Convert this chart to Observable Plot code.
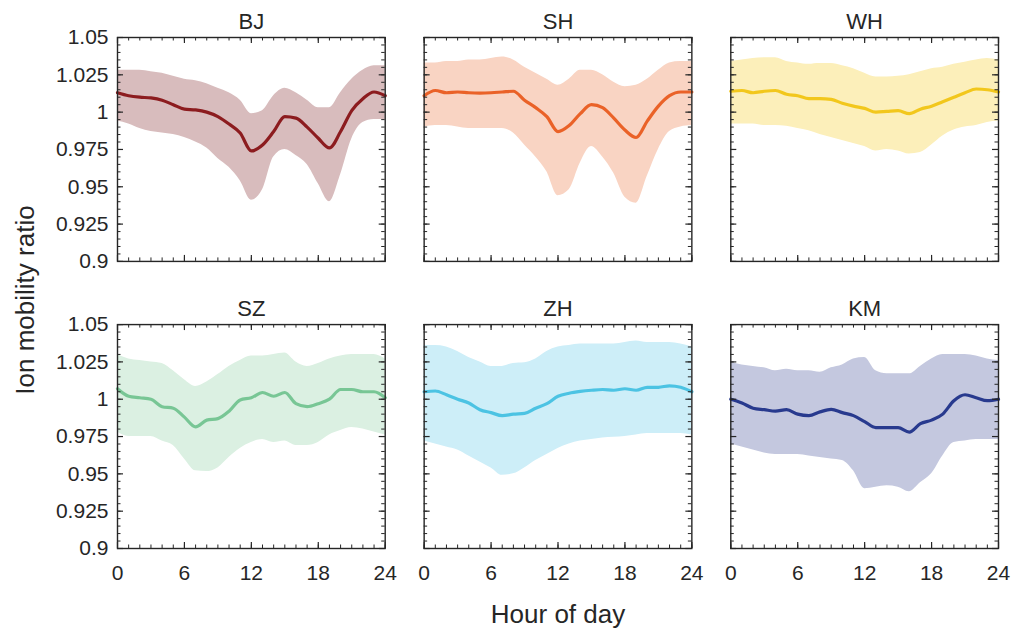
<!DOCTYPE html>
<html><head><meta charset="utf-8">
<script src="https://cdn.jsdelivr.net/npm/d3@7"></script>
<script src="https://cdn.jsdelivr.net/npm/@observablehq/plot@0.6"></script>
<style>
html,body{margin:0;padding:0;background:#fff;}
#chart{position:relative;width:1013px;height:630px;}
</style></head><body><div id="chart"></div>
<script>
// ---- data ----
const hours = [0,1,2,3,4,5,6,7,8,9,10,11,12,13,14,15,16,17,18,19,20,21,22,23,24];
const cities = ["BJ","SH","WH","SZ","ZH","KM"];
const lineColors = ["#8c1c1f","#ea6228","#f2c71c","#78c695","#4cc3e3","#283a8e"];
const bandColors = ["#d8bcbd","#f9d4c3","#fcefba","#dbf0e2","#cdeef8","#c4c8df"];
const xTicks = [0,6,12,18,24];
const xTickLabels = ["0","6","12","18","24"];
const yTicks = [0.9,0.925,0.95,0.975,1,1.025,1.05];
const yTickLabels = ["0.9","0.925","0.95","0.975","1","1.025","1.05"];

const bjMean = [1.013,1.011,1.010,1.0095,1.008,1.005,1.002,1.0015,1.000,0.997,0.992,0.986,0.974,0.978,0.987,0.997,0.996,0.990,0.9825,0.976,0.987,1.001,1.009,1.0135,1.011];
const bjHi   = [1.028,1.028,1.028,1.027,1.026,1.024,1.022,1.021,1.019,1.016,1.013,1.008,0.999,1.001,1.011,1.016,1.013,1.008,1.003,1.003,1.013,1.022,1.028,1.031,1.031];
const bjLo   = [0.994,0.992,0.989,0.987,0.986,0.985,0.983,0.980,0.976,0.969,0.963,0.954,0.941,0.948,0.970,0.975,0.971,0.965,0.952,0.940,0.958,0.982,0.993,0.995,0.995];

const shMean = [1.011,1.0145,1.013,1.0135,1.013,1.0128,1.013,1.0135,1.014,1.008,1.003,0.997,0.987,0.991,0.999,1.005,1.003,0.996,0.988,0.983,0.994,1.004,1.011,1.0135,1.0135];
const shHi   = [1.033,1.033,1.034,1.034,1.035,1.035,1.036,1.037,1.035,1.030,1.026,1.022,1.018,1.022,1.028,1.028,1.025,1.020,1.017,1.018,1.022,1.028,1.033,1.034,1.034];
const shLo   = [0.990,0.991,0.991,0.990,0.989,0.989,0.989,0.989,0.986,0.978,0.970,0.960,0.944,0.948,0.966,0.977,0.970,0.959,0.943,0.939,0.957,0.975,0.987,0.990,0.991];

const whMean = [1.014,1.0145,1.013,1.014,1.0145,1.012,1.011,1.009,1.009,1.0085,1.006,1.004,1.0025,1.000,1.0005,1.001,0.999,1.002,1.004,1.007,1.010,1.013,1.0155,1.015,1.0135];
const whHi   = [1.034,1.035,1.036,1.0365,1.0365,1.034,1.033,1.032,1.0325,1.0325,1.031,1.029,1.026,1.0235,1.0235,1.024,1.025,1.027,1.029,1.030,1.032,1.0335,1.035,1.036,1.035];
const whLo   = [0.992,0.992,0.992,0.991,0.991,0.9905,0.989,0.9875,0.985,0.983,0.981,0.979,0.977,0.974,0.975,0.974,0.972,0.973,0.978,0.984,0.988,0.990,0.991,0.993,0.994];

const szMean = [1.007,1.002,1.001,1.000,0.995,0.994,0.988,0.9815,0.986,0.987,0.992,0.9995,1.001,1.0045,1.002,1.0045,0.997,0.995,0.997,1.000,1.0065,1.0065,1.005,1.005,1.001];
const szHi   = [1.030,1.027,1.026,1.025,1.024,1.019,1.013,1.0085,1.0115,1.0165,1.022,1.026,1.029,1.029,1.030,1.031,1.025,1.022,1.024,1.027,1.029,1.030,1.030,1.030,1.027];
const szLo   = [0.978,0.975,0.975,0.975,0.972,0.969,0.960,0.952,0.9515,0.954,0.961,0.967,0.971,0.973,0.971,0.972,0.969,0.969,0.971,0.976,0.979,0.981,0.980,0.978,0.976];

const zhMean = [1.005,1.0055,1.003,1.000,0.9975,0.993,0.991,0.989,0.990,0.9905,0.994,0.997,1.002,1.004,1.0052,1.006,1.0065,1.006,1.007,1.006,1.008,1.008,1.009,1.008,1.005];
const zhHi   = [1.036,1.036,1.035,1.032,1.028,1.025,1.022,1.022,1.024,1.0245,1.027,1.032,1.035,1.036,1.037,1.037,1.037,1.037,1.038,1.039,1.038,1.038,1.038,1.037,1.035];
const zhLo   = [0.972,0.970,0.968,0.966,0.962,0.958,0.954,0.949,0.950,0.954,0.959,0.963,0.967,0.970,0.972,0.973,0.974,0.9745,0.975,0.976,0.977,0.977,0.977,0.977,0.976];

const kmMean = [1.000,0.9975,0.994,0.993,0.992,0.993,0.990,0.989,0.9915,0.9932,0.991,0.989,0.985,0.981,0.981,0.981,0.978,0.9836,0.986,0.990,0.999,1.003,1.001,0.999,1.000];
const kmHi   = [1.025,1.023,1.022,1.021,1.019,1.020,1.019,1.019,1.018,1.021,1.023,1.027,1.028,1.019,1.017,1.017,1.017,1.022,1.027,1.030,1.030,1.030,1.029,1.027,1.026];
const kmLo   = [0.970,0.968,0.966,0.964,0.963,0.963,0.963,0.962,0.961,0.960,0.959,0.952,0.940,0.941,0.942,0.941,0.938,0.944,0.950,0.962,0.971,0.972,0.973,0.973,0.973];

const meanSeries = [bjMean, shMean, whMean, szMean, zhMean, kmMean];
const hiSeries = [bjHi, shHi, whHi, szHi, zhHi, kmHi];
const loSeries = [bjLo, shLo, whLo, szLo, zhLo, kmLo];

// ---- build tables ----
const rows = [];
cities.forEach((city, c) => {
  hours.forEach((h, i) => {
    rows.push({city, col: c % 3, row: Math.floor(c / 3), hour: h,
      mean: meanSeries[c][i], hi: hiSeries[c][i], lo: loSeries[c][i],
      line: lineColors[c], band: bandColors[c]});
  });
});
const titleRows = cities.map((city, c) => ({city, col: c % 3, row: Math.floor(c / 3)}));
// tick labels only on the left column and the bottom row
const yLabelRows = [0, 1].flatMap(r => yTicks.map((v, i) => ({col: 0, row: r, v, label: yTickLabels[i]})));
const xLabelRows = [0, 1, 2].flatMap(c => xTicks.map((v, i) => ({col: c, row: 1, v, label: xTickLabels[i]})));

// ---- layout ----
const W = 1013, H = 630, mL = 117, mR = 15, mT = 37, mB = 82;
const padX = 0.127, padY = 0.22;
const fw = (W - mL - mR) / (3 - padX) * (1 - padX);
const fh = (H - mT - mB) / (2 - padY) * (1 - padY);
const ink = "#262626";
const font = "'Liberation Sans', Arial, sans-serif";
const majorLen = 6, minorLen = 3.5;
const xMinor = d3.range(0, 25, 1);
const yMinor = d3.range(0, 31).map(i => +(0.9 + i * 0.005).toFixed(3));

const plot = Plot.plot({
  width: W, height: H,
  marginLeft: mL, marginRight: mR, marginTop: mT, marginBottom: mB,
  style: {fontFamily: font, fontSize: "21px", color: ink, background: "white"},
  fx: {domain: [0, 1, 2], axis: null, paddingInner: padX, paddingOuter: 0, round: false},
  fy: {domain: [0, 1], axis: null, paddingInner: padY, paddingOuter: 0, round: false},
  x: {domain: [0, 24], axis: null},
  y: {domain: [0.9, 1.05], axis: null},
  color: {type: "identity"},
  marks: [
    Plot.areaY(rows, {x: "hour", y1: "lo", y2: "hi", fill: "band", z: "city", fx: "col", fy: "row", curve: "monotone-x"}),
    Plot.lineY(rows, {x: "hour", y: "mean", stroke: "line", z: "city", strokeWidth: 3.2, fx: "col", fy: "row", curve: "monotone-x"}),
    Plot.frame({stroke: ink, strokeWidth: 1.4}),
    // inward ticks: bottom, top, left, right
    Plot.tickX(xMinor, {x: d => d, insetTop: fh - minorLen, stroke: ink, strokeWidth: 1}),
    Plot.tickX(xTicks, {x: d => d, insetTop: fh - majorLen, stroke: ink, strokeWidth: 1.2}),
    Plot.tickX(xMinor, {x: d => d, insetBottom: fh - minorLen, stroke: ink, strokeWidth: 1}),
    Plot.tickX(xTicks, {x: d => d, insetBottom: fh - majorLen, stroke: ink, strokeWidth: 1.2}),
    Plot.tickY(yMinor, {y: d => d, insetRight: fw - minorLen, stroke: ink, strokeWidth: 1}),
    Plot.tickY(yTicks, {y: d => d, insetRight: fw - majorLen, stroke: ink, strokeWidth: 1.2}),
    Plot.tickY(yMinor, {y: d => d, insetLeft: fw - minorLen, stroke: ink, strokeWidth: 1}),
    Plot.tickY(yTicks, {y: d => d, insetLeft: fw - majorLen, stroke: ink, strokeWidth: 1.2}),
    // tick labels
    Plot.text(yLabelRows, {fx: "col", fy: "row", y: "v", text: "label", frameAnchor: "left", textAnchor: "end",
      lineAnchor: "middle", dx: -9, fontSize: 21, fontFamily: font, fill: ink}),
    Plot.text(xLabelRows, {fx: "col", fy: "row", x: "v", text: "label", frameAnchor: "bottom", textAnchor: "middle",
      lineAnchor: "top", dy: 17, fontSize: 21, fontFamily: font, fill: ink}),
    // panel titles
    Plot.text(titleRows, {fx: "col", fy: "row", text: "city", frameAnchor: "top", lineAnchor: "middle",
      dy: -16, fontSize: 22, fontFamily: font, fill: ink})
  ]
});

const svg = d3.select(plot);
svg.append("text")
  .attr("transform", "translate(25,300) rotate(-90)")
  .attr("text-anchor", "middle").attr("dy", "0.35em")
  .attr("font-family", font)
  .attr("font-size", 26).attr("fill", ink)
  .text("Ion mobility ratio");
svg.append("text")
  .attr("x", 558).attr("y", 623)
  .attr("text-anchor", "middle")
  .attr("font-family", font)
  .attr("font-size", 26).attr("fill", ink)
  .text("Hour of day");

document.getElementById("chart").appendChild(plot);
</script>
</body></html>
